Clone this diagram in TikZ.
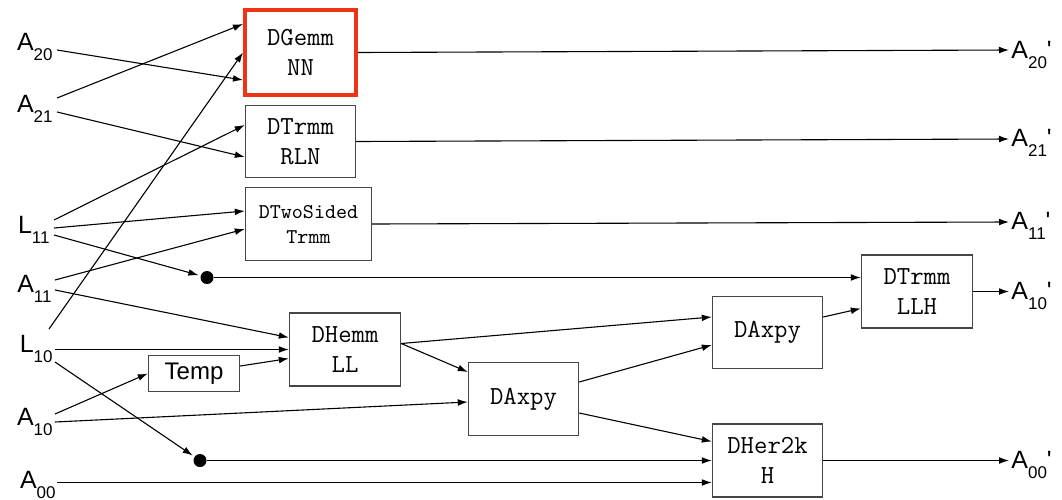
\documentclass[tikz,border=0pt]{standalone}
\usepackage{fontspec}
\setmainfont{Liberation Sans}
\usetikzlibrary{arrows.meta,calc}
\definecolor{boxgray}{RGB}{70,70,70}
\definecolor{hired}{RGB}{238,52,22}
\newcommand{\mylab}[2]{#1\raisebox{-5pt}{\fontsize{8.5}{10}\selectfont #2}}
\begin{document}
\begin{tikzpicture}[x=0.5pt,y=-0.5pt,
  arr/.style={-{Latex[length=5pt,width=3.4pt]}, line width=0.55pt},
  box/.style={draw=boxgray, line width=0.7pt, align=center, inner sep=0pt, font=\fontsize{13}{15}\selectfont\ttfamily},
  lab/.style={inner sep=0pt, font=\fontsize{12.5}{15}\selectfont},
  dot/.style={circle, fill=black, inner sep=0pt, minimum size=6.5pt}]
\useasboundingbox (0,0) rectangle (1062,499);

% boxes
\node[box, draw=hired, line width=1.8pt, minimum width=55.7pt, minimum height=42.7pt] (gemm) at (300.5,52.5) {DGemm\\NN};
\node[box, minimum width=55pt, minimum height=36pt] (trmmR) at (300.5,141.5) {DTrmm\\RLN};
\node[box, minimum width=63pt, minimum height=36.5pt, font=\fontsize{10.5}{12.5}\selectfont\ttfamily] (twosided) at (308.5,224) {DTwoSided\\Trmm};
\node[box, minimum width=45.5pt, minimum height=18pt, font=\fontsize{12}{14}\selectfont] (temp) at (194,373.5) {Temp};
\node[box, minimum width=55.5pt, minimum height=36.5pt] (hemm) at (345,349.5) {DHemm\\LL};
\node[box, minimum width=55pt, minimum height=36.5pt] (axpy1) at (523.5,399) {DAxpy};
\node[box, minimum width=55pt, minimum height=36pt] (axpy2) at (767.5,332.5) {DAxpy};
\node[box, minimum width=55.5pt, minimum height=36.5pt] (trmmL) at (917,291.5) {DTrmm\\LLH};
\node[box, minimum width=55pt, minimum height=36.5pt] (her2k) at (767.5,460.5) {DHer2k\\H};

\node[dot] (dot1) at (207,277.5) {};
\node[dot] (dot2) at (200,460.5) {};

% input labels
\node[lab, anchor=base east] (A20) at (53,50) {\mylab{A}{20}};
\node[lab, anchor=base east] (A21) at (53,112) {\mylab{A}{21}};
\node[lab, anchor=base east] (L11) at (50,233) {\mylab{L}{11}};
\node[lab, anchor=base east] (A11) at (52,292) {\mylab{A}{11}};
\node[lab, anchor=base east] (L10) at (53,352) {\mylab{L}{10}};
\node[lab, anchor=base east] (A10) at (53,425) {\mylab{A}{10}};
\node[lab, anchor=base east] (A00) at (56,488) {\mylab{A}{00}};

% output labels
\node[lab, anchor=base west] (A20p) at (1011,58) {\mylab{A}{20}\textquotesingle};
\node[lab, anchor=base west] (A21p) at (1011,146) {\mylab{A}{21}\textquotesingle};
\node[lab, anchor=base west] (A11p) at (1011,229) {\mylab{A}{11}\textquotesingle};
\node[lab, anchor=base west] (A10p) at (1011,299.5) {\mylab{A}{10}\textquotesingle};
\node[lab, anchor=base west] (A00p) at (1011,468.5) {\mylab{A}{00}\textquotesingle};

% input connectors
\draw[arr] ([shift={(4,0)}]A20.base east) -- ([shift={(0,27.5)}]gemm.west);
\draw[arr] ([shift={(4,-14)}]A21.base east) -- ([shift={(0,-28.5)}]gemm.west);
\draw[arr] ([shift={(4,0)}]A21.base east) -- ([shift={(0,15.5)}]trmmR.west);
\draw[arr] ([shift={(4,-13)}]L11.base east) -- ([shift={(0,-16.5)}]trmmR.west);
\draw[arr] ([shift={(4,-5)}]L11.base east) -- ([shift={(0,-13)}]twosided.west);
\draw[arr, shorten >=1pt] ([shift={(4,2)}]L11.base east) -- (dot1);
\draw[arr] ([shift={(3,-12)}]A11.base east) -- ([shift={(0,5)}]twosided.west);
\draw[arr] ([shift={(3,-2)}]A11.base east) -- ([shift={(0,-12)}]hemm.west);
\draw[arr] ([shift={(-4,-23)}]L10.base east) -- (gemm.west);
\draw[arr] ([shift={(2,-2.5)}]L10.base east) -- (hemm.west);
\draw[arr, shorten >=1pt] ([shift={(2,10)}]L10.base east) -- (dot2);
\draw[arr] ([shift={(2,-11)}]A10.base east) -- (temp.west);
\draw[arr] ([shift={(2,-3)}]A10.base east) -- ([shift={(0,3)}]axpy1.west);
\draw[arr] ([shift={(1,-5.5)}]A00.base east) -- ([shift={(0,22)}]her2k.west);

% internal connectors
\draw[arr] ([shift={(0,-7.5)}]temp.east) -- ([shift={(0,9)}]hemm.west);
\draw[arr] ([shift={(0,-6)}]hemm.east) -- ([shift={(0,-15.5)}]axpy2.west);
\draw[arr] ([shift={(0,-6)}]hemm.east) -- ([shift={(0,-27)}]axpy1.west);
\draw[arr] ([shift={(0,-17)}]axpy1.east) -- ([shift={(0,12.5)}]axpy2.west);
\draw[arr] ([shift={(0,14)}]axpy1.east) -- ([shift={(0,-19)}]her2k.west);
\draw[arr] ([shift={(0,-15.5)}]axpy2.east) -- ([shift={(0,17)}]trmmL.west);
\draw[arr] (dot1) -- (dot1 -| trmmL.west);
\draw[arr] (dot2) -- (dot2 -| her2k.west);

% output connectors
\draw[arr] (gemm.east) -- ([shift={(-2,-8)}]A20p.base west);
\draw[arr] (trmmR.east) -- ([shift={(-2,-7)}]A21p.base west);
\draw[arr] (twosided.east) -- ([shift={(-2,-7)}]A11p.base west);
\draw[arr] (trmmL.east) -- ([shift={(-2,-8)}]A10p.base west);
\draw[arr] (her2k.east) -- ([shift={(-2,-8)}]A00p.base west);
\end{tikzpicture}
\end{document}
